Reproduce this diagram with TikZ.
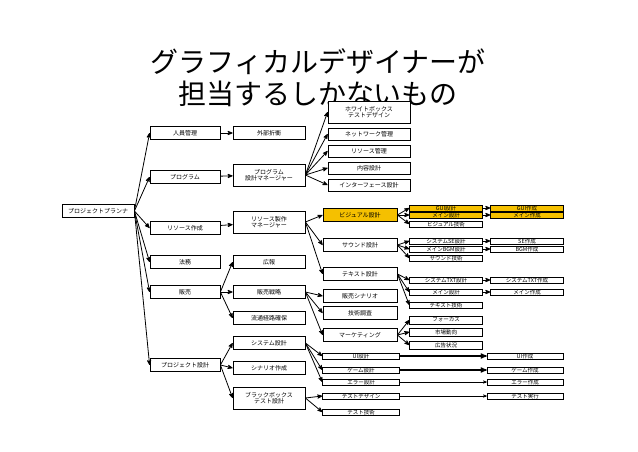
\documentclass[tikz,border=0pt]{standalone}
\usepackage{fontspec}
\setmainfont{Noto Sans CJK JP}
\usetikzlibrary{positioning, arrows}
\definecolor{gold}{RGB}{245,192,0}
\tikzset{
  box/.style = {draw, thick, fill=white, inner sep=0pt, minimum height=13pt, font=\fontsize{6}{6.5}\selectfont, align=center},
  tall/.style = {box, minimum height=22pt},
  tiny/.style = {draw, fill=white, inner sep=0pt, minimum height=6.5pt, minimum width=73pt, font=\fontsize{5.5}{5.5}\selectfont},
  hot/.style = {fill=gold},
  link/.style = {->, thick},
}
\begin{document}
\begin{tikzpicture}[x=1pt, y=-1pt, >=stealth']
  \useasboundingbox (0,0) rectangle (638,452);
  \node[font=\fontsize{28}{30}\selectfont] (title) at (318,62) {グラフィカルデザイナーが};
  \node[font=\fontsize{28}{30}\selectfont] (title2) at (318,94) {担当するしかないもの};

  \node[box, minimum width=72pt] (planner) at (98,211) {プロジェクトプランナ};

  \node[box, minimum width=70pt] (staff) at (185,133) {人員管理};
  \node[box, minimum width=70pt] (prog) at (185,177) {プログラム};
  \node[box, minimum width=70pt] (res) at (185,228) {リソース作成};
  \node[box, minimum width=70pt] (legal) at (185,262) {法務};
  \node[box, minimum width=70pt] (sales) at (185,292) {販売};
  \node[box, minimum width=70pt] (pdesign) at (185,365) {プロジェクト設計};

  \node[box, minimum width=72pt] (nego) at (269,133) {外部折衝};
  \node[tall, minimum width=72pt] (progmgr) at (269,175) {プログラム\\設計マネージャー};
  \node[tall, minimum width=72pt] (resmgr) at (269,222) {リソース製作\\マネージャー};
  \node[box, minimum width=72pt] (pr) at (269,262) {広報};
  \node[box, minimum width=72pt] (strat) at (269,292) {販売戦略};
  \node[box, minimum width=72pt] (dist) at (269,318) {流通経路確保};
  \node[box, minimum width=72pt] (sys) at (269,343) {システム設計};
  \node[box, minimum width=72pt] (scen) at (269,368) {シナリオ作成};
  \node[tall, minimum width=72pt] (bbox) at (269,398) {ブラックボックス\\テスト設計};

  \node[tall, minimum width=82pt] (wbox) at (369,112) {ホワイトボックス\\テストデザイン};
  \node[box, minimum width=82pt, minimum height=12pt] (net) at (369,134) {ネットワーク管理};
  \node[box, minimum width=82pt, minimum height=12pt] (resman) at (369,151) {リソース管理};
  \node[box, minimum width=82pt, minimum height=12pt] (cont) at (369,168) {内容設計};
  \node[box, minimum width=82pt, minimum height=12pt] (iface) at (369,185) {インターフェース設計};

  \node[box, hot, minimum width=74pt] (visual) at (360,215) {ビジュアル設計};
  \node[box, minimum width=74pt] (sound) at (360,245) {サウンド設計};
  \node[box, minimum width=74pt] (text) at (360,274) {テキスト設計};
  \node[box, minimum width=74pt] (salescen) at (360,296) {販売シナリオ};
  \node[box, minimum width=74pt] (tech) at (360,313) {技術調査};
  \node[box, minimum width=74pt] (mkt) at (360,335) {マーケティング};

  \node[tiny, hot] (gui) at (446,208) {GUI設計};
  \node[tiny, hot] (vmain) at (446,215) {メイン設計};
  \node[tiny] (vtech) at (446,224) {ビジュアル技術};
  \node[tiny] (se) at (446,241) {システムSE設計};
  \node[tiny] (bgm) at (446,249) {メインBGM設計};
  \node[tiny] (stech) at (446,258) {サウンド技術};
  \node[tiny] (txt) at (446,280) {システムTXT設計};
  \node[tiny] (tmain) at (446,292) {メイン設計};
  \node[tiny] (ttech) at (446,305) {テキスト技術};
  \node[tiny, minimum height=8pt] (focus) at (446,320) {フォーカス};
  \node[tiny, minimum height=8pt] (market) at (446,332) {市場動向};
  \node[tiny, minimum height=8pt] (ad) at (446,345) {広告状況};

  \node[tiny, hot] (guimk) at (527,208) {GUI作成};
  \node[tiny, hot] (vmainmk) at (527,215) {メイン作成};
  \node[tiny] (semk) at (527,241) {SE作成};
  \node[tiny] (bgmmk) at (527,249) {BGM作成};
  \node[tiny] (txtmk) at (527,280) {システムTXT作成};
  \node[tiny] (tmainmk) at (527,292) {メイン作成};

  \node[tiny, minimum width=77pt] (ui) at (361,356) {UI設計};
  \node[tiny, minimum width=77pt] (game) at (361,370) {ゲーム設計};
  \node[tiny, minimum width=77pt] (err) at (361,382) {エラー設計};
  \node[tiny, minimum width=77pt] (tdes) at (361,396) {テストデザイン};
  \node[tiny, minimum width=77pt] (ttest) at (361,412) {テスト技術};
  \node[tiny, minimum width=76pt] (uimk) at (525,356) {UI作成};
  \node[tiny, minimum width=76pt] (gamemk) at (525,370) {ゲーム作成};
  \node[tiny, minimum width=76pt] (errmk) at (525,382) {エラー作成};
  \node[tiny, minimum width=76pt] (trun) at (525,396) {テスト実行};

  \foreach \b in {staff, prog, res, legal, sales, pdesign}
    \draw[link] (planner.east) -- (\b.west);
  \draw[link] (staff) -- (nego);
  \draw[link] (prog) -- (progmgr);
  \draw[link] (res) -- (resmgr);
  \foreach \b in {pr, strat, dist}
    \draw[link] (sales.east) -- (\b.west);
  \foreach \b in {sys, scen, bbox}
    \draw[link] (pdesign.east) -- (\b.west);
  \foreach \b in {wbox, net, resman, cont, iface}
    \draw[link] (progmgr.east) -- (\b.west);
  \foreach \b in {visual, sound, text}
    \draw[link] (resmgr.east) -- (\b.west);
  \foreach \b in {salescen, tech, mkt}
    \draw[link] (strat.east) -- (\b.west);
  \foreach \b in {gui, vmain, vtech}
    \draw[link] (visual.east) -- (\b.west);
  \foreach \b in {se, bgm, stech}
    \draw[link] (sound.east) -- (\b.west);
  \foreach \b in {txt, tmain, ttech}
    \draw[link] (text.east) -- (\b.west);
  \foreach \b in {focus, market, ad}
    \draw[link] (mkt.east) -- (\b.west);
  \foreach \b in {ui, game, err}
    \draw[link] (sys.east) -- (\b.west);
  \foreach \b in {tdes, ttest}
    \draw[link] (bbox.east) -- (\b.west);
  \foreach \a/\b in {gui/guimk, vmain/vmainmk, se/semk, bgm/bgmmk, txt/txtmk, tmain/tmainmk}
    \draw[link] (\a) -- (\b);
  \draw[->, very thick] (ui) -- (uimk);
  \draw[->, very thick] (game) -- (gamemk);
  \draw[->] (err) -- (errmk);
  \draw[->] (tdes) -- (trun);
\end{tikzpicture}
\end{document}
